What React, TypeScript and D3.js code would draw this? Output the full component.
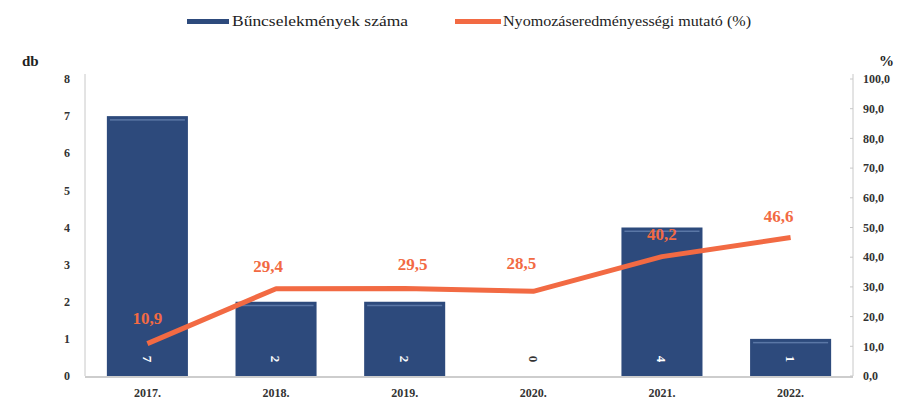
import React from "react";
import * as d3 from "d3";

const years = ["2017.", "2018.", "2019.", "2020.", "2021.", "2022."];
const crimes = [7, 2, 2, 0, 4, 1];
const rate = [10.9, 29.4, 29.5, 28.5, 40.2, 46.6];
const rateLabels = ["10,9", "29,4", "29,5", "28,5", "40,2", "46,6"];
const leftTicks = [0, 1, 2, 3, 4, 5, 6, 7, 8];
const rightTicks = [0, 10, 20, 30, 40, 50, 60, 70, 80, 90, 100];
const legendBar = "Bűncselekmények száma";
const legendLine = "Nyomozáseredményességi mutató (%)";

const W = 913, H = 410;
const left = 85, right = 853, top = 79, bottom = 376;
const BLUE = "#2d4a7c";
const ORANGE = "#f26a43";
const FONT = "Liberation Serif, DejaVu Serif, serif";

export default function App() {
  const x = d3.scaleBand<string>().domain(years).range([left, right]).paddingInner(0.37).paddingOuter(0.17);
  const yL = d3.scaleLinear().domain([0, 8]).range([bottom, top]);
  const yR = d3.scaleLinear().domain([0, 100]).range([bottom, top]);
  const cx = (i: number) => (x(years[i]) as number) + x.bandwidth() / 2;
  const line = d3.line<number>().x((_, i) => cx(i)).y((d) => yR(d));
  const labelOffsets = [[0, -20], [-8, -17], [8, -18], [-12, -22], [0, -17], [-12, -16]];

  return (
    <svg width={W} height={H} style={{ position: "absolute", left: 0, top: 0, background: "#fff", fontFamily: FONT }}>
      {/* legend */}
      <rect x={187} y={19} width={42} height={5} fill={BLUE} />
      <text x={232} y={26} fontSize={15} fill="#222" textLength={176} lengthAdjust="spacingAndGlyphs">{legendBar}</text>
      <rect x={455} y={19} width={46} height={5} fill={ORANGE} />
      <text x={503} y={26} fontSize={15} fill="#222" textLength={248} lengthAdjust="spacingAndGlyphs">{legendLine}</text>

      {/* axis titles */}
      <text x={22} y={66} fontSize={15} fontWeight="bold" fill="#222">db</text>
      <text x={879} y={66} fontSize={15} fontWeight="bold" fill="#222">%</text>

      {/* axes lines */}
      <line x1={left} x2={left} y1={top - 5} y2={bottom} stroke="#c8c8c8" />
      <line x1={right} x2={right} y1={top - 5} y2={bottom} stroke="#c8c8c8" />
      <line x1={left} x2={right} y1={bottom + 1} y2={bottom + 1} stroke="#bdbdbd" strokeWidth={1.5} />
      {rightTicks.map((t) => (
        <line key={"rt" + t} x1={right - 3} x2={right} y1={yR(t)} y2={yR(t)} stroke="#c8c8c8" />
      ))}

      {/* left tick labels */}
      {leftTicks.map((t) => (
        <text key={"l" + t} x={67} y={yL(t)} dy="0.35em" textAnchor="middle" fontSize={12} fontWeight="bold" fill="#333">{t}</text>
      ))}
      {/* right tick labels */}
      {rightTicks.map((t) => (
        <text key={"r" + t} x={863} y={yR(t)} dy="0.35em" fontSize={12} fontWeight="bold" fill="#333">{t.toFixed(1).replace(".", ",")}</text>
      ))}

      {/* bars */}
      {crimes.map((v, i) => (
        <g key={"b" + i}>
          <rect x={x(years[i])} y={yL(v)} width={x.bandwidth()} height={bottom - yL(v)} fill={BLUE} />
          {v > 0 && <rect x={(x(years[i]) as number) + 3} y={yL(v) + 3} width={x.bandwidth() - 6} height={1.5} fill="#6d8ab8" opacity={0.7} />}
        </g>
      ))}

      {/* x labels */}
      {years.map((y, i) => (
        <text key={"x" + i} x={cx(i)} y={397} textAnchor="middle" fontSize={12} fontWeight="bold" fill="#333">{y}</text>
      ))}

      {/* bar value labels (rotated) */}
      {crimes.map((v, i) => (
        <text key={"bv" + i} transform={`translate(${cx(i)},${359}) rotate(90)`} textAnchor="middle" dy="0.35em" fontSize={13} fontWeight="bold" fill={v > 0 ? "#fff" : "#333"}>{v}</text>
      ))}

      {/* line */}
      <path d={line(rate) || ""} fill="none" stroke={ORANGE} strokeWidth={5} strokeLinejoin="round" />

      {/* line labels */}
      {rate.map((v, i) => (
        <text key={"rl" + i} x={cx(i) + labelOffsets[i][0]} y={yR(v) + labelOffsets[i][1]} textAnchor="middle" fontSize={17} fontWeight="bold" fill={ORANGE}>{rateLabels[i]}</text>
      ))}
    </svg>
  );
}
